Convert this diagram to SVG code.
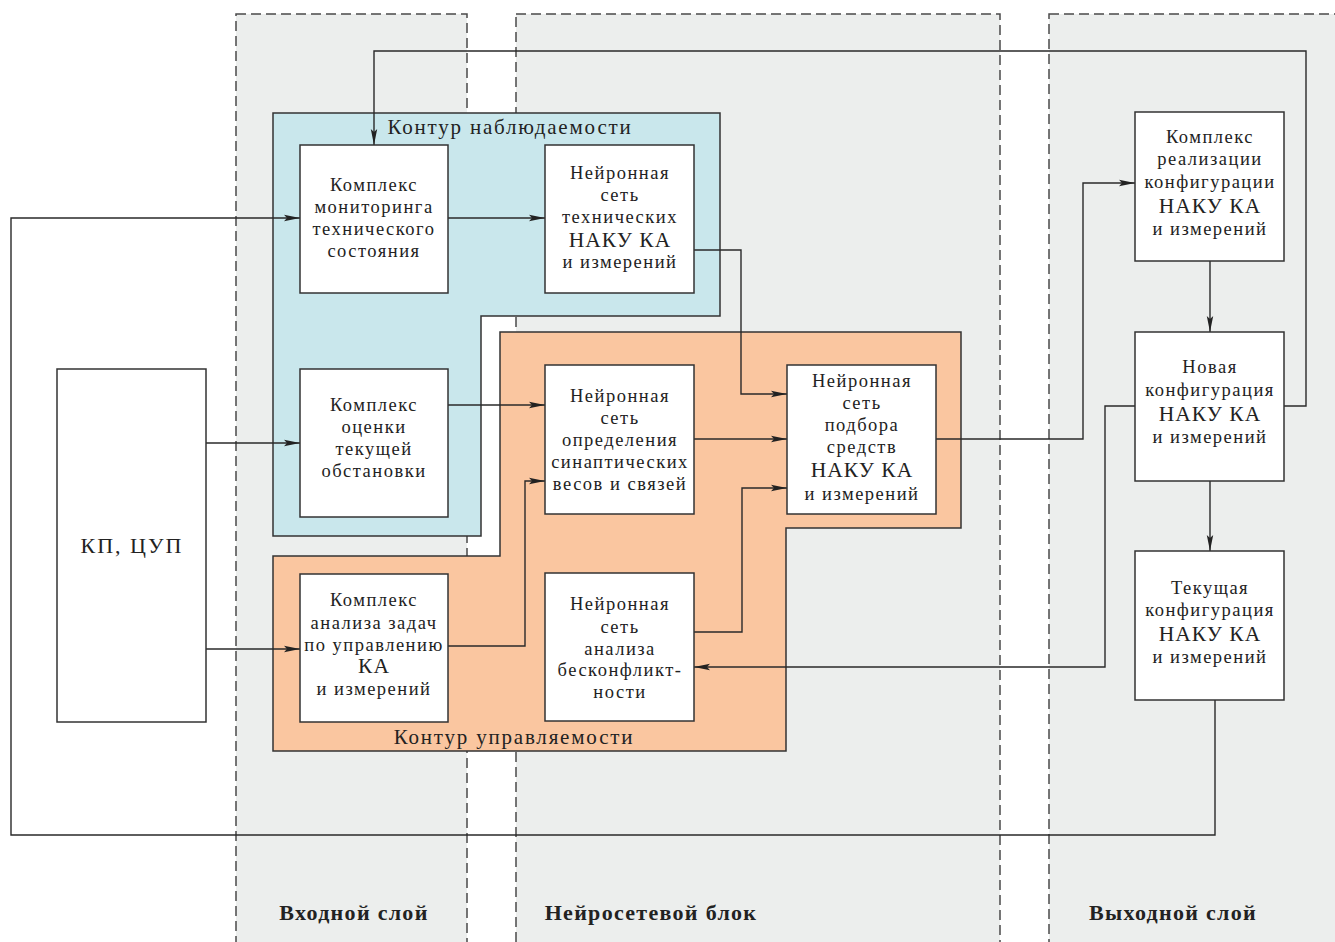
<svg xmlns="http://www.w3.org/2000/svg" width="1335" height="942" viewBox="0 0 1335 942">
<defs>
<style>
.layer{fill:#eceeed;stroke:#4a4a4a;stroke-width:1.5;stroke-dasharray:10 5}
.node{fill:#fff;stroke:#333;stroke-width:1.5}
.t{font-family:"Liberation Serif","DejaVu Serif",serif;font-size:18.5px;letter-spacing:1.5px;fill:#222;text-anchor:middle;dominant-baseline:central}
.big{font-size:21.5px;letter-spacing:1px}
.ct{font-family:"Liberation Serif","DejaVu Serif",serif;font-size:21px;letter-spacing:1.8px;fill:#222;text-anchor:middle;dominant-baseline:central}
.lb{font-family:"Liberation Serif","DejaVu Serif",serif;font-size:22px;font-weight:bold;letter-spacing:1.3px;fill:#222;text-anchor:middle;dominant-baseline:central}
.c{fill:none;stroke:#2a2a2a;stroke-width:1.4}
</style>
<marker id="ar" markerWidth="16" markerHeight="8" refX="16" refY="4" orient="auto" markerUnits="userSpaceOnUse">
<path d="M0,0.8 L16,4 L0,7.2 L3,4 Z" fill="#222"/>
</marker>
</defs>
<rect width="1335" height="942" fill="#fff"/>
<g id="layers">
<rect class="layer" x="236" y="14" width="231" height="940"/>
<rect class="layer" x="516" y="14" width="484" height="940"/>
<rect class="layer" x="1049" y="14" width="300" height="940"/>
<text class="lb" x="354" y="912">Входной слой</text>
<text class="lb" x="651" y="912">Нейросетевой блок</text>
<text class="lb" x="1173" y="912">Выходной слой</text>
</g>
<g id="contour-observ">
<path d="M273,113 H720 V316 H481 V536 H273 Z" fill="#c9e7ec" stroke="#333" stroke-width="1.5"/>
<text class="ct" x="510" y="127">Контур наблюдаемости</text>
</g>
<g id="contour-control">
<path d="M500,332 H961 V528 H786 V751 H273 V556 H500 Z" fill="#fac6a0" stroke="#333" stroke-width="1.5"/>
<text class="ct" x="514" y="737">Контур управляемости</text>
</g>
<g id="connectors">
<path class="c" d="M1215,700 V835 H11 V218 H300" marker-end="url(#ar)"/>
<path class="c" d="M206,443 H300" marker-end="url(#ar)"/>
<path class="c" d="M206,649 H300" marker-end="url(#ar)"/>
<path class="c" d="M448,218 H545" marker-end="url(#ar)"/>
<path class="c" d="M694,250 H741 V394 H787" marker-end="url(#ar)"/>
<path class="c" d="M448,405 H545" marker-end="url(#ar)"/>
<path class="c" d="M694,439 H787" marker-end="url(#ar)"/>
<path class="c" d="M448,646 H525 V481 H545" marker-end="url(#ar)"/>
<path class="c" d="M694,632 H742 V488 H787" marker-end="url(#ar)"/>
<path class="c" d="M936,439 H1083 V183 H1135" marker-end="url(#ar)"/>
<path class="c" d="M1210,261 V332" marker-end="url(#ar)"/>
<path class="c" d="M1210,481 V551" marker-end="url(#ar)"/>
<path class="c" d="M1284,406 H1306 V51 H374 V145" marker-end="url(#ar)"/>
<path class="c" d="M1135,406 H1105 V667 H694" marker-end="url(#ar)"/>
</g>
<g id="kp-cup">
<rect class="node" x="57" y="369" width="149" height="353"/>
<text class="t" x="132" y="545" style="font-size:22px;letter-spacing:2px">КП, ЦУП</text>
</g>
<g id="monitoring">
<rect class="node" x="300" y="145" width="148" height="148"/>
<text class="t" x="374" y="185">Комплекс</text>
<text class="t" x="374" y="207">мониторинга</text>
<text class="t" x="374" y="229">технического</text>
<text class="t" x="374" y="251">состояния</text>
</g>
<g id="ns-tech">
<rect class="node" x="545" y="145" width="149" height="148"/>
<text class="t" x="620" y="173">Нейронная</text>
<text class="t" x="620" y="195">сеть</text>
<text class="t" x="620" y="217">технических</text>
<text class="t big" x="620" y="240">НАКУ КА</text>
<text class="t" x="620" y="262">и измерений</text>
</g>
<g id="assessment">
<rect class="node" x="300" y="369" width="148" height="148"/>
<text class="t" x="374" y="405">Комплекс</text>
<text class="t" x="374" y="427">оценки</text>
<text class="t" x="374" y="449">текущей</text>
<text class="t" x="374" y="471">обстановки</text>
</g>
<g id="ns-synapse">
<rect class="node" x="545" y="365" width="149" height="149"/>
<text class="t" x="620" y="396">Нейронная</text>
<text class="t" x="620" y="418">сеть</text>
<text class="t" x="620" y="440">определения</text>
<text class="t" x="620" y="462">синаптических</text>
<text class="t" x="620" y="484">весов и связей</text>
</g>
<g id="ns-selection">
<rect class="node" x="787" y="365" width="149" height="149"/>
<text class="t" x="862" y="381">Нейронная</text>
<text class="t" x="862" y="403">сеть</text>
<text class="t" x="862" y="425">подбора</text>
<text class="t" x="862" y="447">средств</text>
<text class="t big" x="862" y="470">НАКУ КА</text>
<text class="t" x="862" y="494">и измерений</text>
</g>
<g id="task-analysis">
<rect class="node" x="300" y="574" width="148" height="148"/>
<text class="t" x="374" y="600">Комплекс</text>
<text class="t" x="374" y="623">анализа задач</text>
<text class="t" x="374" y="645">по управлению</text>
<text class="t big" x="374" y="666">КА</text>
<text class="t" x="374" y="689">и измерений</text>
</g>
<g id="ns-conflict">
<rect class="node" x="545" y="573" width="149" height="148"/>
<text class="t" x="620" y="604">Нейронная</text>
<text class="t" x="620" y="627">сеть</text>
<text class="t" x="620" y="649">анализа</text>
<text class="t" x="620" y="670">бесконфликт-</text>
<text class="t" x="620" y="692">ности</text>
</g>
<g id="realization">
<rect class="node" x="1135" y="112" width="149" height="149"/>
<text class="t" x="1210" y="137">Комплекс</text>
<text class="t" x="1210" y="159">реализации</text>
<text class="t" x="1210" y="182">конфигурации</text>
<text class="t big" x="1210" y="206">НАКУ КА</text>
<text class="t" x="1210" y="229">и измерений</text>
</g>
<g id="new-config">
<rect class="node" x="1135" y="332" width="149" height="149"/>
<text class="t" x="1210" y="367">Новая</text>
<text class="t" x="1210" y="390">конфигурация</text>
<text class="t big" x="1210" y="414">НАКУ КА</text>
<text class="t" x="1210" y="437">и измерений</text>
</g>
<g id="current-config">
<rect class="node" x="1135" y="551" width="149" height="149"/>
<text class="t" x="1210" y="588">Текущая</text>
<text class="t" x="1210" y="610">конфигурация</text>
<text class="t big" x="1210" y="634">НАКУ КА</text>
<text class="t" x="1210" y="657">и измерений</text>
</g>
</svg>
